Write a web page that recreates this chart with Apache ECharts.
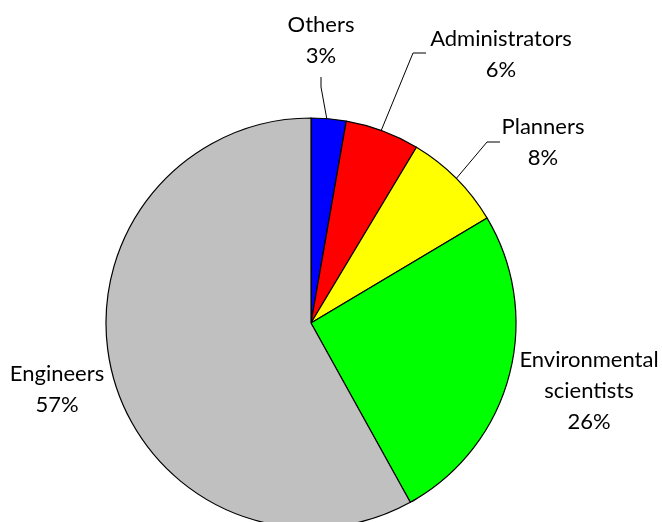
<!DOCTYPE html>
<html>
<head>
<meta charset="utf-8">
<script src="https://cdn.jsdelivr.net/npm/echarts@6/dist/echarts.min.js"></script>
<style>
  html, body { margin: 0; padding: 0; background: #fff; }
  #chart { width: 662px; height: 522px; }
</style>
</head>
<body>
<div id="chart"></div>
<script>
// data, clockwise from 12 o'clock
var categories = ['Others', 'Administrators', 'Planners', 'Environmental\nscientists', 'Engineers']
// slice sizes
var shares = [2.75, 5.85, 7.85, 25.5, 58.05]
// percentages as printed on the labels
var percentLabels = ['3%', '6%', '8%', '26%', '57%']
var colors = ['#0000ff', '#ff0000', '#ffff00', '#00ff00', '#c0c0c0']

// where each label sits, and the bend of its leader line (null = no line)
var labelSpots = [
  { x: 321, y: 40, line: [[327, 120], [321, 87], [321, 77]] },
  { x: 501, y: 54, line: [[381, 131], [413, 53], [426, 53]] },
  { x: 543, y: 142, line: [[455, 180], [487, 142], [500, 142]] },
  { x: 589, y: 391, line: null },
  { x: 57, y: 389, line: null }
]

var chart = echarts.init(document.getElementById('chart'))

chart.setOption({
  animation: false,
  series: [
    {
      type: 'pie',
      center: [311, 323],
      radius: 205,
      startAngle: 90,
      clockwise: true,
      avoidLabelOverlap: false,
      data: categories.map(function (c, i) {
        return {
          name: c,
          value: shares[i],
          itemStyle: { color: colors[i] },
          labelLine: { show: !!labelSpots[i].line }
        }
      }),
      itemStyle: { borderColor: '#000', borderWidth: 1.2 },
      label: {
        show: true,
        position: 'outside',
        formatter: function (p) { return p.name + '\n' + percentLabels[p.dataIndex] },
        fontFamily: 'Lato',
        fontSize: 22,
        lineHeight: 31,
        color: '#000',
        align: 'center'
      },
      labelLine: {
        show: true,
        lineStyle: { color: '#000', width: 1 }
      },
      labelLayout: function (params) {
        var s = labelSpots[params.dataIndex]
        var out = { x: s.x, y: s.y, align: 'center', verticalAlign: 'middle' }
        if (s.line) out.labelLinePoints = s.line
        return out
      },
      emphasis: { disabled: true }
    }
  ]
})
</script>
</body>
</html>
